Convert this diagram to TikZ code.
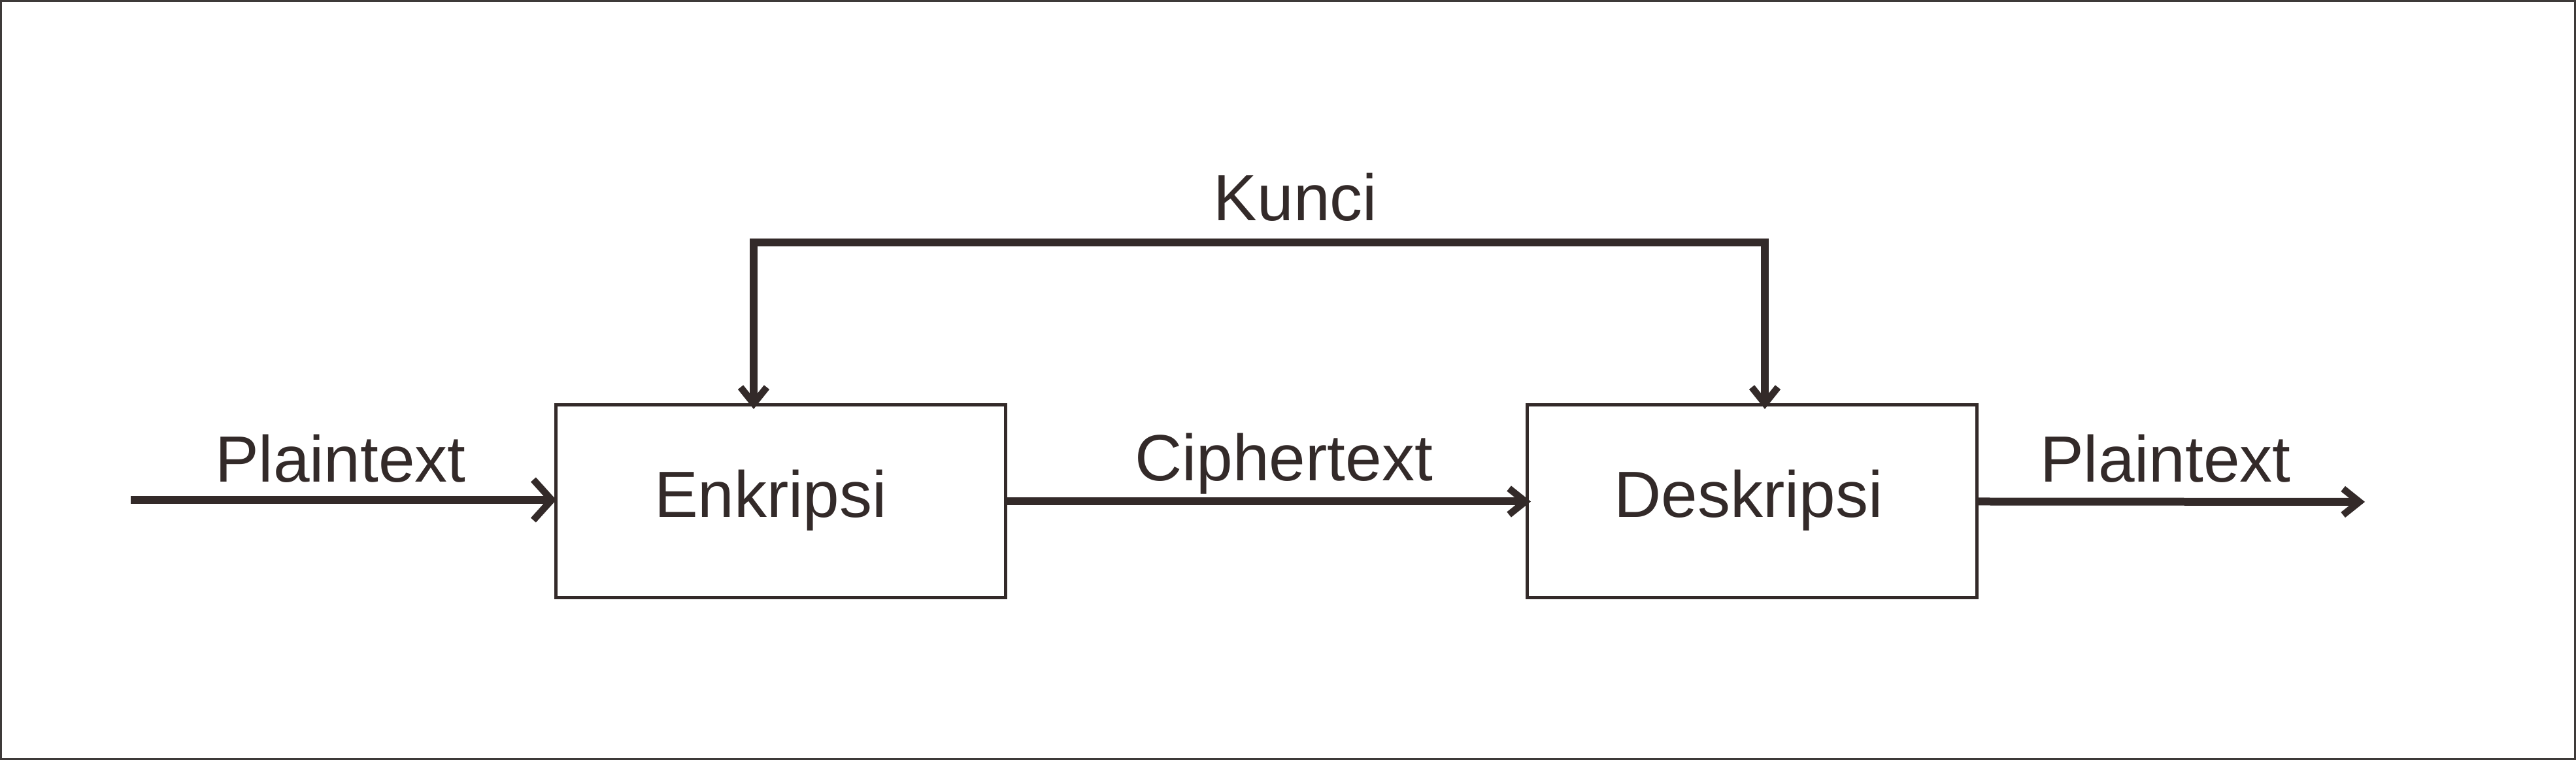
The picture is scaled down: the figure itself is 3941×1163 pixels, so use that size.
\documentclass[tikz,border=0pt]{standalone}
\usepackage{fontspec}
\setmainfont{Liberation Sans}
\usetikzlibrary{arrows.meta}
\definecolor{ink}{RGB}{51,42,41}
\definecolor{frame}{RGB}{62,58,57}
\begin{document}
\begin{tikzpicture}[x=0.1pt,y=-0.1pt,
  box/.style={draw=ink, line width=0.5pt, minimum width=68.8pt, minimum height=29.5pt, inner sep=0pt, outer sep=0pt},
  lbl/.style={inner sep=0pt, outer sep=0pt, anchor=base, text=ink, font=\fontsize{10pt}{12pt}\selectfont},
  conn/.style={draw=ink, line width=1.2pt, line join=miter},
  bigtip/.tip={Straight Barb[length=2.8pt,width=6.2pt,line width=1.05pt,sharp]},
  smalltip/.tip={Straight Barb[length=2.5pt,width=4.0pt,line width=1.05pt,sharp]}]
  \useasboundingbox (0,0) rectangle (3941,1163);
  \draw[frame, line width=0.3pt] (1.5,1.5) rectangle (3939.5,1161.5);
  % boxes
  \node[box] (enk) at (1194,767.5) {};
  \node[box] (des) at (2680,767.5) {};
  % labels
  \node[lbl] (tenk) at (1179,792) {Enkripsi};
  \node[lbl] (tdes) at (2675,792) {Deskripsi};
  \node[lbl] (tpin) at (521,738) {Plaintext};
  \node[lbl] (tcip) at (1964,736) {Ciphertext};
  \node[lbl] (tpout) at (3313,738) {Plaintext};
  \node[lbl] (tkun) at (1982,338) {Kunci};
  % coordinates
  \coordinate (pin) at (200,765);
  \coordinate (pout) at (3618,768);
  \coordinate (k1) at (1153,371);
  \coordinate (k2) at (2700,371);
  % connectors
  \draw[conn, -{bigtip}, shorten >=-0.1pt] (pin) -- (pin -| enk.west);
  \draw[conn, -{smalltip}, shorten >=-0.6pt] (enk.east) -- (des.west);
  \draw[conn, -{smalltip}] (des.east) -- (pout);
  \draw[conn, {smalltip}-{smalltip}, shorten <=-0.6pt, shorten >=-0.6pt]
    (enk.north -| k1) -- (k1) -- (k2) -- (des.north -| k2);
\end{tikzpicture}
\end{document}
